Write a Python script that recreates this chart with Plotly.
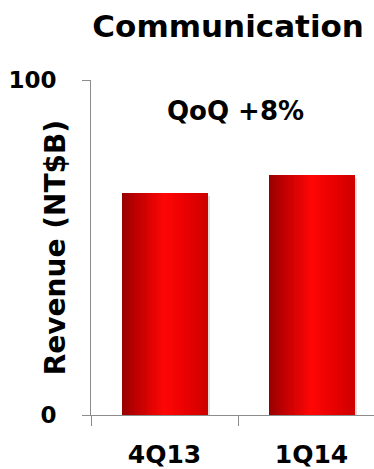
import plotly.graph_objects as go

# Quarterly revenue for the Communication segment (NT$ billions)
quarters = ["4Q13", "1Q14"]
revenue = [66.4, 71.7]
y_ticks = [0, 100]
title_text = "Communication"
growth_label = "QoQ +8%"
y_title = "Revenue (NT$B)"

FONT = "DejaVu Sans, Arial, sans-serif"
BAR_W = 0.585      # bar width in category units
SLICES = 48        # vertical strips used to paint the horizontal shading

# piecewise colour ramp across the bar: dark left edge, bright centre, darker right edge
stops = [(0.0, (150, 0, 0)), (0.15, (185, 0, 0)), (0.5, (255, 6, 6)),
         (0.8, (228, 0, 0)), (1.0, (205, 0, 0))]


def ramp(t):
    for (t0, c0), (t1, c1) in zip(stops[:-1], stops[1:]):
        if t <= t1:
            f = (t - t0) / (t1 - t0)
            return "rgb(%d,%d,%d)" % tuple(round(a + (b - a) * f) for a, b in zip(c0, c1))
    return "rgb(%d,%d,%d)" % stops[-1][1]


fig = go.Figure()

# soft drop shadow behind each bar
fig.add_trace(go.Bar(
    x=quarters, y=revenue, base=-0.9, width=BAR_W, offset=-BAR_W / 2 + 0.015,
    marker=dict(color="rgba(0,0,0,0.13)", line=dict(width=0)),
    hoverinfo="skip", showlegend=False,
))

# shaded bars, painted strip by strip
step = BAR_W / SLICES
for i in range(SLICES):
    t = (i + 0.5) / SLICES
    fig.add_trace(go.Bar(
        x=quarters, y=revenue, width=step * 1.25, offset=-BAR_W / 2 + i * step,
        marker=dict(color=ramp(t), line=dict(width=0)),
        hoverinfo="skip", showlegend=False,
    ))

fig.update_layout(
    width=374, height=469,
    margin=dict(l=91, r=0, t=80, b=49),
    paper_bgcolor="white", plot_bgcolor="white",
    barmode="overlay", bargap=0,
    font=dict(family=FONT, color="black"),
    title=dict(text="<b>%s</b>" % title_text, x=0.61, xref="container", xanchor="center",
               y=0.945, yref="container", yanchor="middle",
               font=dict(size=31, family=FONT, color="black")),
    xaxis=dict(
        type="category", range=[-0.5, 1.425],
        showline=True, linecolor="#8c8c8c", linewidth=1,
        ticks="outside", tickson="boundaries", ticklen=10, tickcolor="#8c8c8c",
        tickfont=dict(size=25, family=FONT, color="black"),
        tickvals=quarters, ticktext=["<b>%s</b>" % q for q in quarters],
        ticklabelstandoff=17, showgrid=False, zeroline=False,
    ),
    yaxis=dict(
        range=[0, 100], tickvals=y_ticks, ticktext=["<b>%d</b>" % v for v in y_ticks],
        showline=True, linecolor="#8c8c8c", linewidth=1,
        ticks="outside", ticklen=8, tickcolor="#8c8c8c",
        tickfont=dict(size=23, family=FONT, color="black"),
        ticklabelstandoff=21, showgrid=False, zeroline=False,
    ),
    annotations=[
        dict(text="<b>%s</b>" % growth_label, xref="paper", yref="y",
             x=0.509, y=90.6, showarrow=False,
             font=dict(size=26, family=FONT, color="black")),
        dict(text="<b>%s</b>" % y_title, xref="paper", yref="paper",
             x=-0.19, y=0.5, textangle=-90, showarrow=False,
             font=dict(size=28, family=FONT, color="black")),
    ],
)

fig.write_html("out.html")
